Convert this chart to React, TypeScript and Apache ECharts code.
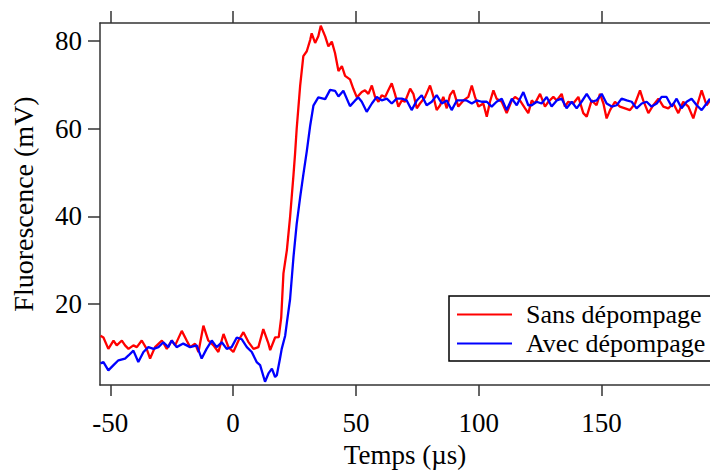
import React, { useEffect, useRef } from "react";
import * as echarts from "echarts";

const seriesNames = ["Sans dépompage", "Avec dépompage"];
const xTicks = [-50, 0, 50, 100, 150];
const yTicks = [20, 40, 60, 80];

const redT = [
  -54.0, -52.8, -50.8, -48.7, -47.4, -45.3, -44.0, -42.6, -40.6, -39.2, -37.2, -35.2, -33.8, -31.8,
  -29.0, -27.0, -25.0, -23.6, -20.9, -18.9, -17.5, -15.5, -14.1, -12.1, -10.1, -8.0, -6.0, -3.9,
  -1.9, 0.1, 2.2, 4.2, 6.2, 8.3, 10.3, 12.3, 14.4, 15.1, 17.1, 18.6, 19.6, 20.5, 21.9, 23.2, 24.6,
  25.2, 25.9, 27.3, 28.6, 30.0, 31.4, 32.0, 33.4, 34.7, 35.7, 37.5, 38.8, 40.2, 41.5, 42.9, 44.3,
  45.6, 47.6, 49.0, 50.4, 52.4, 53.7, 55.1, 56.5, 57.8, 59.2, 60.5, 61.9, 63.2, 64.6, 65.9, 67.3,
  68.7, 70.0, 72.1, 73.4, 74.8, 76.1, 78.2, 80.2, 81.6, 82.9, 84.3, 85.6, 87.0, 88.3, 89.7, 91.7,
  93.8, 95.8, 97.2, 98.5, 99.9, 101.9, 103.3, 104.6, 106.0, 107.3, 109.4, 111.4, 113.5, 114.8,
  116.8, 118.9, 120.2, 121.6, 122.9, 125.0, 127.0, 128.4, 130.4, 131.8, 133.8, 135.1, 136.5,
  138.5, 140.6, 142.6, 144.0, 146.0, 148.0, 149.4, 150.8, 152.1, 153.5, 155.5, 157.5, 159.6,
  161.6, 163.7, 165.7, 167.0, 169.1, 171.1, 173.2, 175.2, 177.2, 179.3, 181.3, 183.3, 185.4,
  187.4, 189.4, 190.8, 192.8, 194.2,
];
const redV = [
  12.8, 12.4, 9.8, 11.7, 10.6, 11.7, 10.6, 9.8, 10.6, 10.2, 11.7, 9.8, 7.6, 10.2,
  11.7, 9.8, 11.7, 10.6, 13.9, 11.7, 10.2, 11.0, 9.1, 15.1, 11.7, 10.6, 9.1, 13.2,
  10.2, 9.1, 11.7, 13.6, 11.4, 9.8, 10.2, 14.3, 11.0, 9.5, 12.4, 12.5, 17.0, 27.0, 32.3, 39.8, 49.5,
  54.0, 60.0, 69.7, 76.5, 77.6, 80.2, 81.7, 79.5, 81.0, 83.4, 81.0, 78.7, 79.8, 77.2, 73.1, 74.2,
  72.0, 71.2, 69.0, 67.1, 68.3, 68.7, 67.9, 69.8, 67.2, 66.1, 67.6, 67.2, 68.7, 70.3, 67.9, 65.0,
  66.4, 66.1, 69.1, 67.9, 64.6, 65.7, 67.2, 69.8, 67.2, 64.2, 65.3, 67.2, 64.6, 67.6, 68.7, 65.0,
  66.4, 67.2, 69.8, 67.2, 65.0, 65.7, 62.7, 66.1, 68.7, 66.8, 66.1, 63.5, 66.4, 67.2,
  66.4, 64.6, 63.5, 66.4, 65.7, 67.9, 65.0, 66.1, 67.2, 66.4, 67.9, 65.0, 66.1,
  65.7, 67.2, 63.5, 62.7, 66.4, 65.3, 67.9, 65.7, 62.3, 64.2, 66.1, 65.0, 64.6,
  64.2, 65.7, 68.7, 66.4, 63.5, 65.3, 66.8, 65.0, 64.6, 65.7, 63.5, 66.1, 65.0,
  62.3, 66.1, 68.7, 65.3, 66.4,
];

const blueT = [
  -54.0, -52.8, -50.8, -48.7, -46.7, -44.0, -42.6, -40.6, -38.6, -36.5, -34.5, -32.4, -30.4, -28.4,
  -26.4, -25.0, -23.0, -20.3, -17.5, -14.8, -12.8, -10.8, -8.7, -6.7, -4.6, -2.6, -0.6, 1.5, 3.5,
  5.6, 7.6, 9.6, 11.0, 13.0, 14.4, 15.8, 17.1, 17.8, 19.1, 19.8, 21.2, 21.9, 23.2, 24.6, 25.9,
  27.3, 28.6, 30.0, 31.4, 32.7, 34.7, 37.5, 39.5, 41.5, 42.9, 44.9, 47.6, 49.7, 51.0, 52.4, 54.4,
  56.5, 58.5, 60.5, 62.6, 64.6, 66.6, 68.7, 70.7, 72.7, 74.8, 76.8, 78.8, 80.9, 82.9, 85.0, 87.0,
  89.0, 91.1, 93.1, 95.1, 97.2, 99.2, 101.2, 103.3, 105.3, 107.3, 109.4, 111.4, 113.5, 115.5,
  118.2, 120.2, 121.6, 123.6, 125.6, 127.7, 129.7, 131.8, 133.8, 135.8, 137.9, 139.9, 141.9,
  144.0, 146.0, 148.0, 150.1, 152.1, 154.2, 156.2, 158.2, 160.3, 162.3, 164.3, 166.4, 168.4,
  170.4, 172.5, 174.5, 176.5, 178.6, 180.6, 182.6, 184.7, 186.7, 188.8, 190.8, 192.8, 194.2,
];
const blueV = [
  6.5, 6.8, 4.9, 6.1, 7.2, 7.6, 8.3, 9.4, 6.8, 9.1, 10.2, 9.8, 10.2, 11.3,
  10.2, 11.7, 10.2, 11.0, 10.2, 10.6, 7.6, 9.8, 11.7, 10.2, 11.3, 9.8, 10.2, 12.4, 12.0,
  10.2, 9.1, 6.8, 6.1, 2.3, 4.2, 5.3, 3.4, 3.8, 7.6, 9.8, 12.8, 15.8, 21.1, 30.8, 38.3,
  44.3, 49.5, 54.8, 60.7, 65.2, 67.1, 66.7, 68.8, 68.6, 67.3, 68.6, 65.1, 66.4, 67.1, 66.1, 63.8,
  65.7, 67.2, 66.4, 66.8, 65.7, 66.8, 66.8, 66.4, 64.2, 66.4, 67.6, 65.3, 66.1, 67.6, 65.7, 66.4,
  64.2, 66.4, 66.4, 66.4, 65.7, 66.4, 66.1, 66.1, 65.0, 66.1, 66.8, 64.2, 66.8, 65.3,
  68.3, 65.3, 65.3, 66.1, 65.7, 67.2, 65.0, 66.4, 66.8, 64.6, 66.1, 64.6, 66.1,
  67.9, 66.1, 66.4, 67.9, 65.7, 65.0, 65.3, 66.8, 66.4, 66.1, 64.6, 65.7, 66.1,
  65.0, 65.7, 67.2, 67.2, 65.0, 66.8, 64.6, 66.1, 66.8, 65.3, 64.2, 65.7, 66.8,
];

const FONT = "'Liberation Serif', 'DejaVu Serif', serif";
const AXIS_COLOR = "#333333";

export default function App() {
  const ref = useRef<HTMLDivElement>(null);

  useEffect(() => {
    const chart = echarts.init(ref.current!, null, { renderer: "svg" });
    const xMin = -54.2;
    const xMax = 194.2;
    const lineStyle = { color: AXIS_COLOR, width: 1.5 };
    chart.setOption({
      animation: false,
      grid: { left: 100, right: 0, top: 23, bottom: 83, containLabel: false },
      legend: {
        orient: "vertical",
        left: 449,
        top: 296,
        data: seriesNames,
        icon: "rect",
        itemWidth: 55,
        itemHeight: 2,
        itemGap: 0,
        padding: [4, 7, 3, 8],
        borderColor: "#000",
        borderWidth: 1.5,
        borderRadius: 0,
        backgroundColor: "#fff",
        selectedMode: false,
        textStyle: {
          fontFamily: FONT,
          fontSize: 26,
          color: "#000",
          lineHeight: 29,
          padding: [0, 0, 0, 9],
        },
      },
      xAxis: [
        {
          type: "value",
          position: "bottom",
          min: xMin,
          max: xMax,
          axisLine: { show: true, onZero: false, lineStyle },
          axisTick: { show: true, inside: false, length: 11, customValues: xTicks, lineStyle },
          axisLabel: {
            customValues: xTicks,
            fontFamily: FONT,
            fontSize: 27,
            color: "#000",
            margin: 24,
          },
          splitLine: { show: false },
          name: "Temps (µs)",
          nameLocation: "middle",
          nameGap: 56,
          nameTextStyle: { fontFamily: FONT, fontSize: 27, color: "#000" },
        },
        {
          type: "value",
          position: "top",
          min: xMin,
          max: xMax,
          axisLine: { show: true, onZero: false, lineStyle },
          axisTick: { show: true, inside: false, length: 12, customValues: xTicks, lineStyle },
          axisLabel: { show: false },
          splitLine: { show: false },
        },
      ],
      yAxis: {
        type: "value",
        min: 1.57,
        max: 84.04,
        axisLine: { show: true, onZero: false, lineStyle },
        axisTick: { show: true, inside: false, length: 12, customValues: yTicks, lineStyle },
        axisLabel: {
          customValues: yTicks,
          fontFamily: FONT,
          fontSize: 27,
          color: "#000",
          margin: 18,
        },
        splitLine: { show: false },
        name: "Fluorescence (mV)",
        nameLocation: "middle",
        nameGap: 63,
        nameRotate: 90,
        nameTextStyle: { fontFamily: FONT, fontSize: 28, color: "#000" },
      },
      series: [
        {
          name: seriesNames[0],
          type: "line",
          xAxisIndex: 0,
          data: redT.map((t, i) => [t, redV[i]]),
          symbol: "none",
          showSymbol: false,
          lineStyle: { color: "#ff0000", width: 2.3 },
          itemStyle: { color: "#ff0000" },
          clip: true,
        },
        {
          name: seriesNames[1],
          type: "line",
          xAxisIndex: 0,
          data: blueT.map((t, i) => [t, blueV[i]]),
          symbol: "none",
          showSymbol: false,
          lineStyle: { color: "#0000ff", width: 2.3 },
          itemStyle: { color: "#0000ff" },
          clip: true,
        },
      ],
    });
    return () => chart.dispose();
  }, []);

  return (
    <div
      ref={ref}
      style={{ position: "fixed", left: 0, top: 0, width: 710, height: 473, background: "#fff" }}
    />
  );
}
